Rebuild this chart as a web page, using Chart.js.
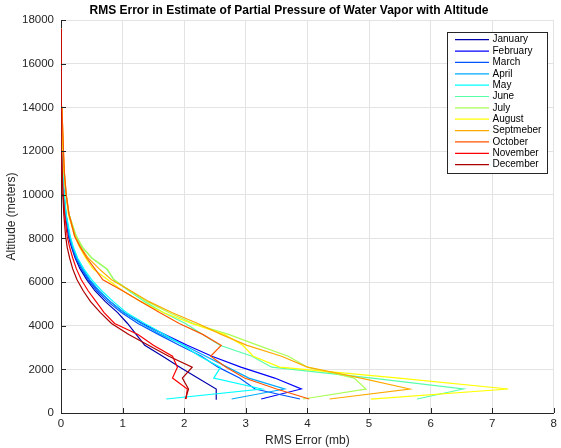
<!DOCTYPE html>
<html>
<head>
<meta charset="utf-8">
<script src="https://cdn.jsdelivr.net/npm/chart.js@4.4.1/dist/chart.umd.min.js"></script>
<style>
  body { margin: 0; background: #fff; }
  #wrap { width: 561px; height: 448px; }
</style>
</head>
<body>
<div id="wrap"><canvas id="chart" width="561" height="448"></canvas></div>
<script>
// altitude levels (m) shared by every month
const altitude = [640, 1100, 1600, 2100, 2600, 3100, 3600, 4100, 4600, 5100, 5600, 6100, 6600, 7100, 7600, 8100, 9100, 10000, 11000, 12000, 14000, 16000, 17600];

// RMS error (mb) per month
const january   = [2.53, 2.52, 2.22, 1.93, 1.65, 1.36, 1.22, 1.08, 0.92, 0.72, 0.55, 0.42, 0.31, 0.23, 0.17, 0.12, 0.07, 0.045, 0.025, 0.012, 0.004, 0.001, 0];
const february  = [3.25, 3.90, 3.47, 2.92, 2.45, 2.05, 1.68, 1.32, 1.02, 0.80, 0.61, 0.46, 0.35, 0.26, 0.19, 0.14, 0.08, 0.05, 0.03, 0.015, 0.005, 0.001, 0];
const march     = [3.88, 3.15, 2.90, 2.55, 2.28, 1.92, 1.58, 1.25, 0.98, 0.76, 0.58, 0.44, 0.33, 0.24, 0.18, 0.13, 0.075, 0.045, 0.025, 0.013, 0.004, 0.001, 0];
const april     = [2.77, 3.63, 3.05, 2.70, 2.35, 2.00, 1.62, 1.30, 1.02, 0.80, 0.62, 0.47, 0.35, 0.26, 0.19, 0.14, 0.08, 0.05, 0.03, 0.015, 0.005, 0.001, 0];
const may       = [1.71, 3.26, 2.48, 2.59, 2.25, 1.98, 1.68, 1.36, 1.06, 0.85, 0.66, 0.50, 0.37, 0.27, 0.20, 0.15, 0.085, 0.055, 0.032, 0.016, 0.005, 0.001, 0];
const june      = [5.78, 6.53, 5.05, 3.42, 3.10, 2.58, 2.30, 2.02, 1.66, 1.36, 1.10, 0.86, 0.74, 0.50, 0.34, 0.24, 0.13, 0.08, 0.05, 0.03, 0.01, 0.003, 0];
const july      = [3.93, 4.95, 4.76, 4.00, 3.69, 3.20, 2.72, 2.15, 1.75, 1.40, 1.12, 0.86, 0.75, 0.50, 0.35, 0.25, 0.13, 0.08, 0.05, 0.03, 0.01, 0.003, 0];
const august    = [5.03, 7.26, 5.49, 3.55, 3.12, 2.95, 2.65, 2.12, 1.66, 1.30, 1.00, 0.76, 0.52, 0.40, 0.30, 0.22, 0.12, 0.08, 0.05, 0.035, 0.012, 0.004, 0];
const september = [4.36, 5.66, 4.87, 4.00, 3.58, 3.02, 2.60, 2.22, 1.80, 1.43, 1.13, 0.82, 0.62, 0.44, 0.32, 0.23, 0.13, 0.085, 0.055, 0.04, 0.015, 0.005, 0];
const october   = [4.03, 3.50, 2.98, 2.68, 2.43, 2.60, 2.30, 1.92, 1.60, 1.30, 1.00, 0.68, 0.55, 0.42, 0.31, 0.22, 0.13, 0.085, 0.055, 0.04, 0.015, 0.005, 0];
const november  = [2.03, 2.05, 1.81, 1.89, 1.81, 1.50, 1.25, 0.87, 0.70, 0.57, 0.44, 0.33, 0.25, 0.19, 0.14, 0.10, 0.06, 0.035, 0.02, 0.01, 0.003, 0.001, 0];
const december  = [2.02, 2.07, 1.97, 2.13, 1.75, 1.42, 1.10, 0.82, 0.64, 0.48, 0.36, 0.26, 0.19, 0.14, 0.10, 0.075, 0.045, 0.03, 0.017, 0.008, 0.003, 0.001, 0];

const monthNames = ["January", "February", "March", "April", "May", "June", "July", "August", "Septmeber", "October", "November", "December"];
const monthValues = [january, february, march, april, may, june, july, august, september, october, november, december];
// jet(12)
const monthColors = ["#0000aa", "#0000ff", "#0055ff", "#00aaff", "#00ffff", "#55ffaa", "#aaff55", "#ffff00", "#ffaa00", "#ff5500", "#ff0000", "#aa0000"];

const xTicks = [0, 1, 2, 3, 4, 5, 6, 7, 8];
const yTicks = [0, 2000, 4000, 6000, 8000, 10000, 12000, 14000, 16000, 18000];

const FONT = "'Liberation Sans', Arial, Helvetica, sans-serif";
const AXIS = "#262626";

const datasets = monthNames.map((name, i) => ({
    label: name,
    data: monthValues[i].map((v, k) => ({ x: v, y: altitude[k] })),
    borderColor: monthColors[i],
    backgroundColor: monthColors[i],
    borderWidth: 1.2,
    pointRadius: 0,
    showLine: true,
    tension: 0,
    order: monthNames.length - i   // later months on top, like matlab
}));

// title, inside ticks and legend box
const extras = {
    id: "extras",
    afterDraw(chart) {
        const ctx = chart.ctx;
        const area = chart.chartArea;
        const xs = chart.scales.x, ys = chart.scales.y;
        ctx.save();

        // inward tick marks
        ctx.strokeStyle = AXIS;
        ctx.lineWidth = 1;
        ctx.beginPath();
        xTicks.forEach(t => {
            const px = Math.round(xs.getPixelForValue(t)) + 0.5;
            ctx.moveTo(px, area.bottom);
            ctx.lineTo(px, area.bottom - 5);
        });
        yTicks.forEach(t => {
            const py = Math.round(ys.getPixelForValue(t)) + 0.5;
            ctx.moveTo(area.left, py);
            ctx.lineTo(area.left + 5, py);
        });
        ctx.stroke();

        // title
        ctx.fillStyle = "#000";
        ctx.font = "bold 12px " + FONT;
        ctx.textAlign = "center";
        ctx.textBaseline = "middle";
        ctx.fillText("RMS Error in Estimate of Partial Pressure of Water Vapor with Altitude", 289, 11);

        // legend
        const bx = 447.5, by = 32.5, bw = 100, bh = 141;
        ctx.fillStyle = "#fff";
        ctx.fillRect(bx, by, bw, bh);
        ctx.strokeStyle = AXIS;
        ctx.strokeRect(bx, by, bw, bh);
        ctx.font = "10px " + FONT;
        ctx.textAlign = "left";
        chart.data.datasets.forEach((ds, i) => {
            const y = 39.7 + i * 11.36;
            ctx.strokeStyle = ds.borderColor;
            ctx.lineWidth = 1.2;
            ctx.beginPath();
            ctx.moveTo(455, y);
            ctx.lineTo(489, y);
            ctx.stroke();
            ctx.fillStyle = "#000";
            ctx.fillText(ds.label, 492.5, y);
        });
        ctx.restore();
    }
};

new Chart(document.getElementById("chart"), {
    type: "scatter",
    data: { datasets: datasets },
    plugins: [extras],
    options: {
        responsive: false,
        animation: false,
        layout: { padding: { top: 20, right: 3, left: 0, bottom: 0 } },
        plugins: {
            legend: { display: false },
            tooltip: { enabled: false },
            title: { display: false }
        },
        scales: {
            x: {
                type: "linear",
                min: 0,
                max: 8,
                afterBuildTicks(scale) { scale.ticks = xTicks.map(v => ({ value: v })); },
                afterFit(scale) { scale.height = 35; },
                grid: { color: "#e3e3e3", drawTicks: false },
                border: { color: AXIS, width: 1 },
                ticks: { color: "#262626", font: { family: FONT, size: 11.5 }, padding: 4, callback: v => String(v) },
                title: { display: true, text: "RMS Error (mb)", color: "#262626", font: { family: FONT, size: 12 }, padding: { top: 1, bottom: 0 } }
            },
            y: {
                type: "linear",
                min: 0,
                max: 18000,
                afterBuildTicks(scale) { scale.ticks = yTicks.map(v => ({ value: v })); },
                afterFit(scale) { scale.width = 61; },
                grid: { color: "#e3e3e3", drawTicks: false },
                border: { color: AXIS, width: 1 },
                ticks: { color: "#262626", font: { family: FONT, size: 11.5 }, padding: 7, callback: v => String(v) },
                title: { display: true, text: "Altitude (meters)", color: "#262626", font: { family: FONT, size: 12 }, padding: { top: 4, bottom: 0 } }
            }
        }
    }
});
</script>
</body>
</html>
